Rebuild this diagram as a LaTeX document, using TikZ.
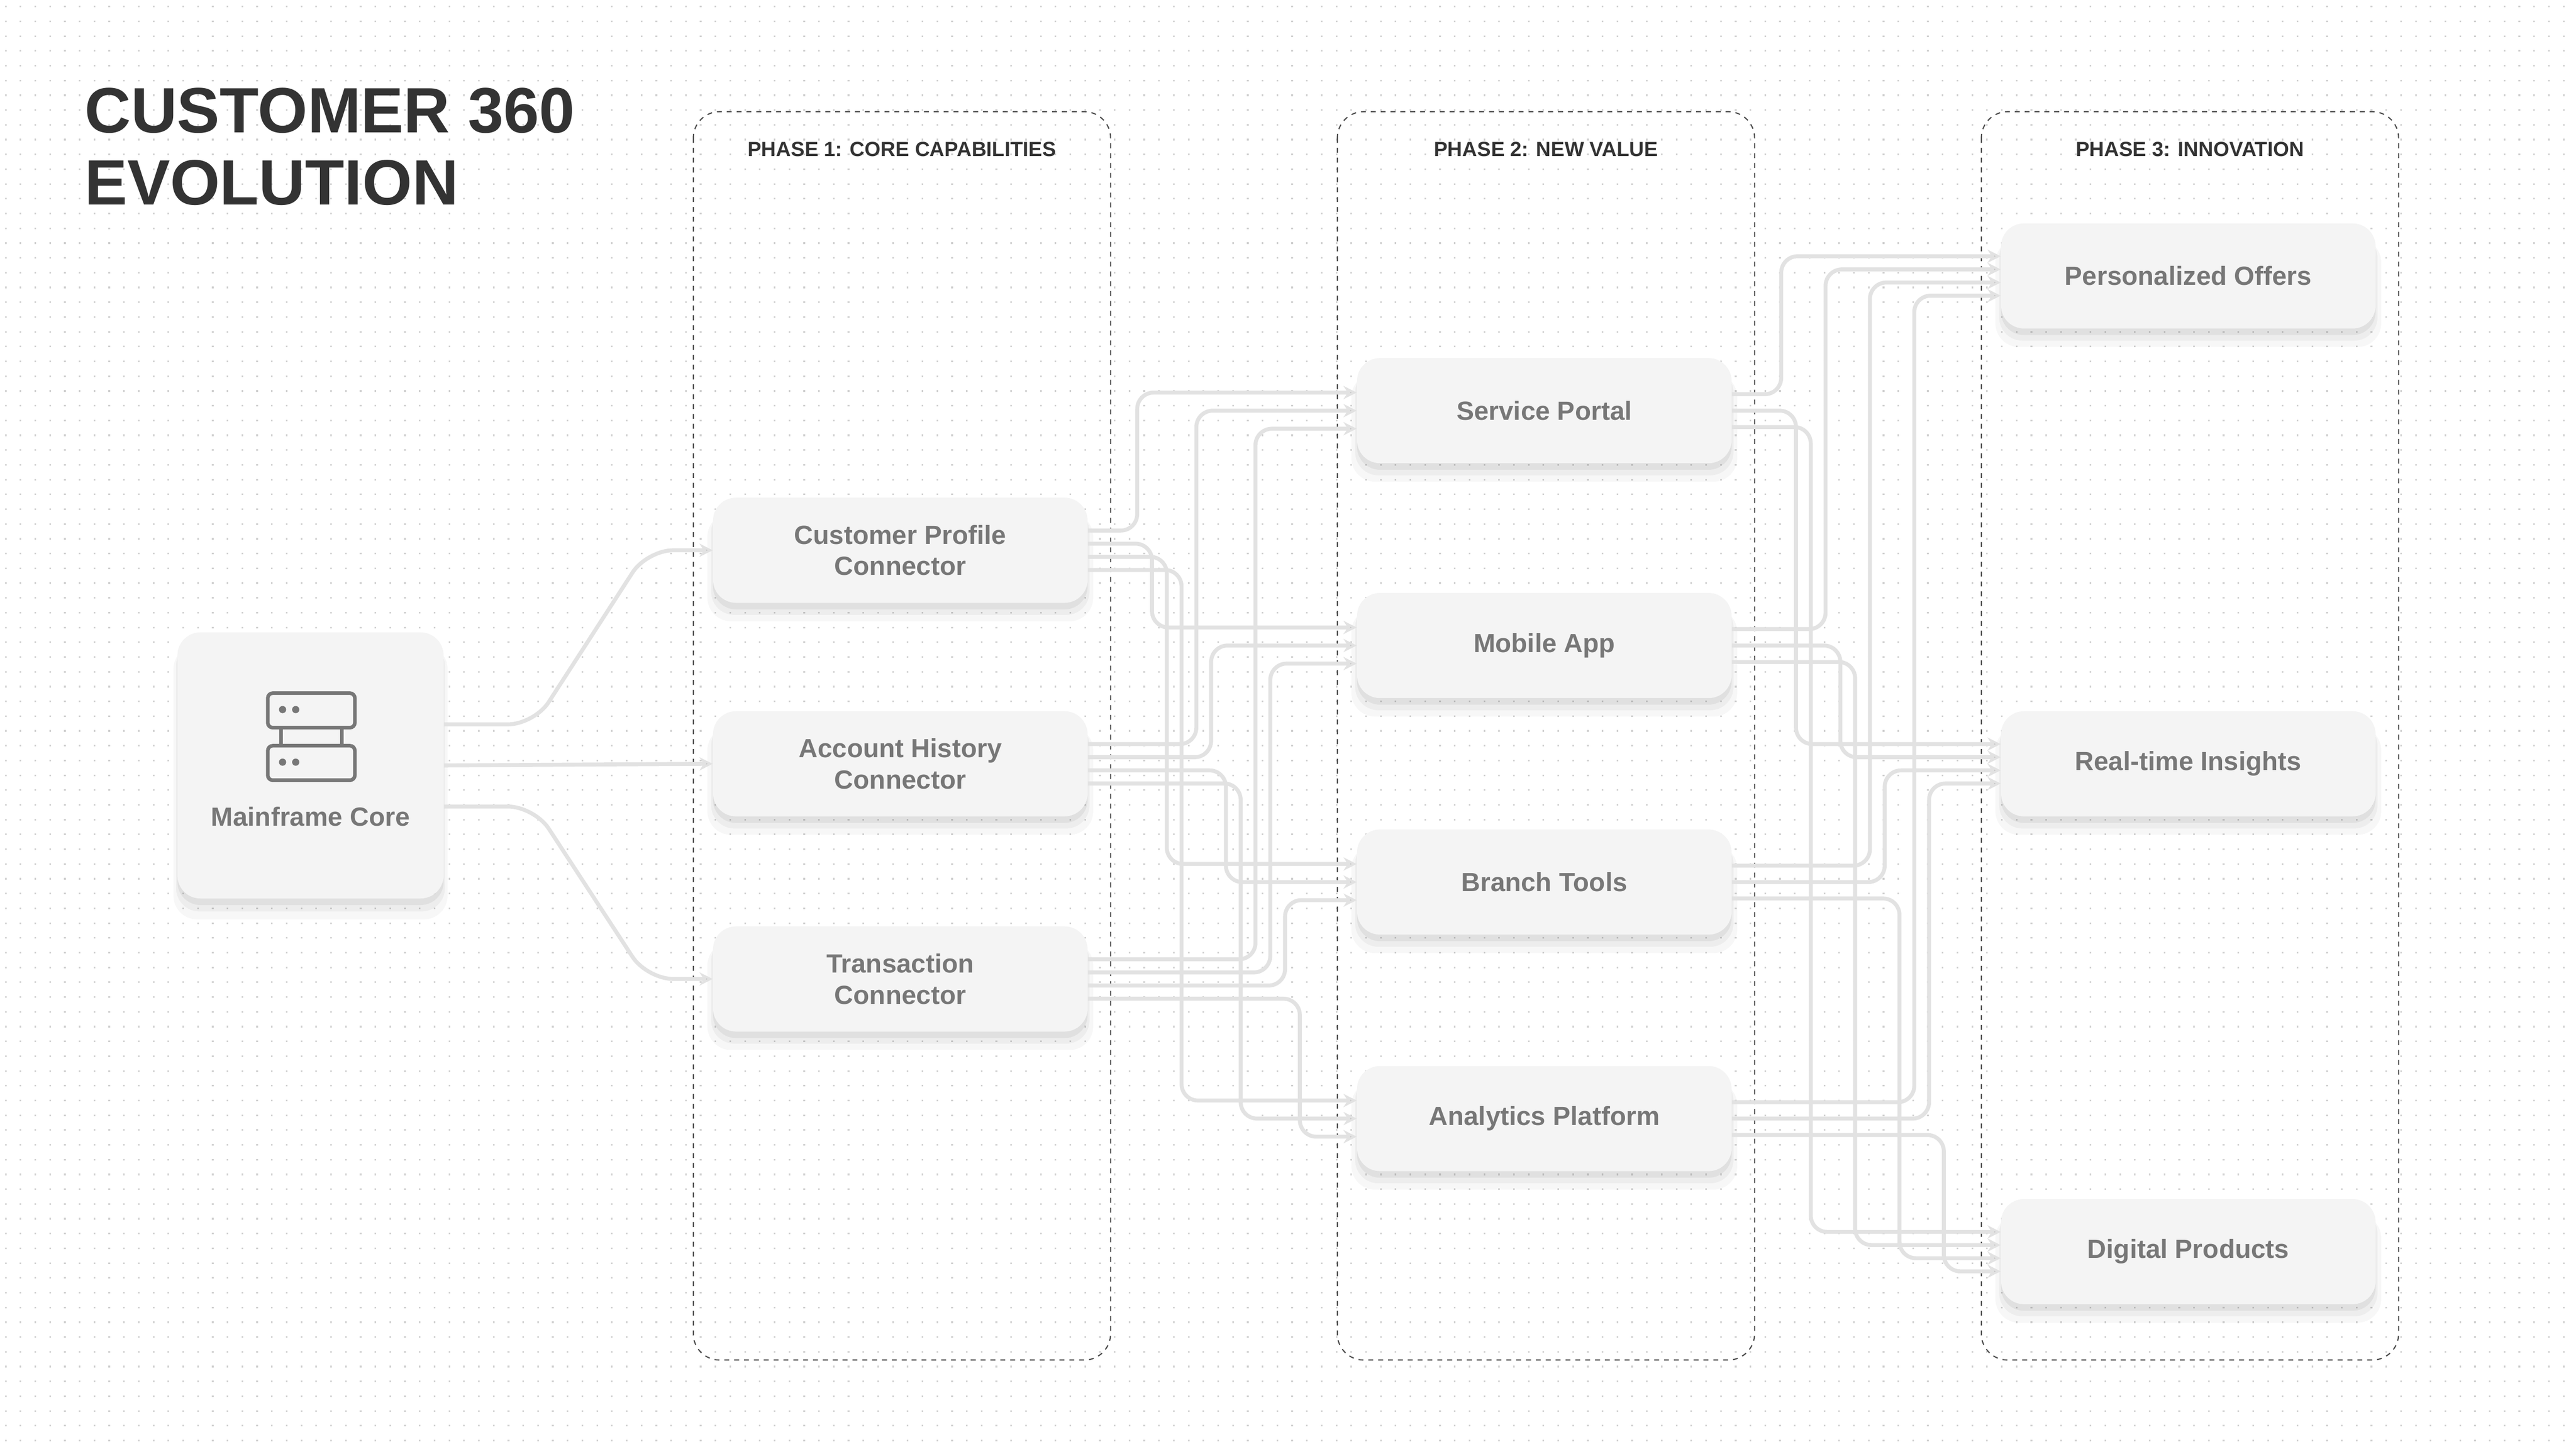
\documentclass[tikz,border=0pt]{standalone}
\usepackage{fontspec}
\setmainfont{Liberation Sans}
\usetikzlibrary{shadows,arrows.meta,positioning}
\definecolor{cardfill}{HTML}{F4F4F4}
\definecolor{cardtext}{HTML}{777777}
\definecolor{linkgray}{HTML}{E2E2E2}
\definecolor{titlegray}{HTML}{333333}

\tikzset{
  card/.style={draw=none,fill=cardfill,rounded corners=14pt,minimum width=228pt,minimum height=64pt,
    align=center,text=cardtext,font=\fontsize{16}{19}\selectfont\bfseries,
    general shadow={shadow xshift=0pt,shadow yshift=-10pt,shadow scale=1.03,opacity=0.03,fill=black},
    general shadow={shadow xshift=0pt,shadow yshift=-7pt,shadow scale=1.01,opacity=0.04,fill=black},
    general shadow={shadow xshift=0pt,shadow yshift=-4pt,opacity=0.05,fill=black}},
  phase/.style={draw=black!70,dashed,rounded corners=16pt,line width=0.7pt},
  phasehead/.style={font=\fontsize{12.5}{14}\selectfont\bfseries,text=titlegray},
  link/.style={draw=linkgray,line width=2.4pt,rounded corners=10pt,-{Stealth[length=8pt,width=8pt,fill=black!25]}},
}

\begin{document}
\begin{tikzpicture}[x=1pt,y=-1pt]
  \useasboundingbox (0,0) rectangle (1568,882);
  \fill[white] (0,0) rectangle (1568,882);
  % dot grid
  \foreach \yy in {4,13,...,882}
    \draw[black!18,line width=1pt,dash pattern=on 1pt off 8pt] (3,\yy) -- (1568,\yy);

  % title
  \node[anchor=north west,align=left,text=titlegray,font=\fontsize{39}{44}\selectfont\bfseries] (title) at (48,50) {CUSTOMER 360\\EVOLUTION};

  % phases
  \draw[phase] (422,68) rectangle (676,828);
  \draw[phase] (814,68) rectangle (1068,828);
  \draw[phase] (1206,68) rectangle (1460,828);
  \node[phasehead] (h1) at (549,91) {PHASE 1: CORE CAPABILITIES};
  \node[phasehead] (h2) at (941,91) {PHASE 2: NEW VALUE};
  \node[phasehead] (h3) at (1333,91) {PHASE 3: INNOVATION};

  % source
  \node[card,minimum width=162pt,minimum height=162pt] (mf) at (189,466) {};
  \node[text=cardtext,font=\fontsize{16}{19}\selectfont\bfseries] (mflabel) at (189,497) {Mainframe Core};
  \begin{scope}[draw=cardtext,line width=2.2pt,fill=cardtext]
    \draw[rounded corners=3pt] (163,422) rectangle (216,443);
    \draw[rounded corners=3pt] (163,454) rectangle (216,475);
    \draw (171,443) -- (171,454) (208,443) -- (208,454);
    \fill (172,432) circle (2.2) (180,432) circle (2.2) (172,464) circle (2.2) (180,464) circle (2.2);
  \end{scope}

  % phase 1
  \node[card] (cp) at (548,335) {Customer Profile\\Connector};
  \node[card] (ah) at (548,465) {Account History\\Connector};
  \node[card] (tc) at (548,596) {Transaction\\Connector};

  % phase 2
  \node[card] (sp) at (940,250) {Service Portal};
  \node[card] (ma) at (940,393) {Mobile App};
  \node[card] (bt) at (940,537) {Branch Tools};
  \node[card] (ap) at (940,681) {Analytics Platform};

  % phase 3
  \node[card] (po) at (1332,168) {Personalized Offers};
  \node[card] (ri) at (1332,465) {Real-time Insights};
  \node[card] (dp) at (1332,762) {Digital Products};

  % mainframe links
  \draw[link,rounded corners=16pt] ([yshift=25pt]mf.east) -- ++(55,0) -- ([xshift=-40pt]cp.west) -- (cp.west);
  \draw[link] (mf.east) -- (ah.west);
  \draw[link,rounded corners=16pt] ([yshift=-25pt]mf.east) -- ++(55,0) -- ([xshift=-40pt]tc.west) -- (tc.west);

  % phase 1 -> phase 2
  \foreach \s [count=\i from 0] in {cp,ah,tc}
    \foreach \t [count=\j from 0] in {sp,ma,bt,ap} {
      \pgfmathsetmacro\so{(1.5-\j)*8}
      \pgfmathsetmacro\to{(1-\i)*11}
      \pgfmathsetmacro\dx{30+9*(\i*4+\j)}
      \draw[link] ([yshift=\so pt]\s.east) -- ++(\dx,0) |- ([yshift=\to pt]\t.west);
    }

  % phase 2 -> phase 3
  \foreach \s [count=\i from 0] in {sp,ma,bt,ap}
    \foreach \t [count=\j from 0] in {po,ri,dp} {
      \pgfmathsetmacro\so{(1-\j)*10}
      \pgfmathsetmacro\to{(1.5-\i)*8}
      \pgfmathsetmacro\dx{30+9*(\i*3+\j)}
      \draw[link] ([yshift=\so pt]\s.east) -- ++(\dx,0) |- ([yshift=\to pt]\t.west);
    }
\end{tikzpicture}
\end{document}
